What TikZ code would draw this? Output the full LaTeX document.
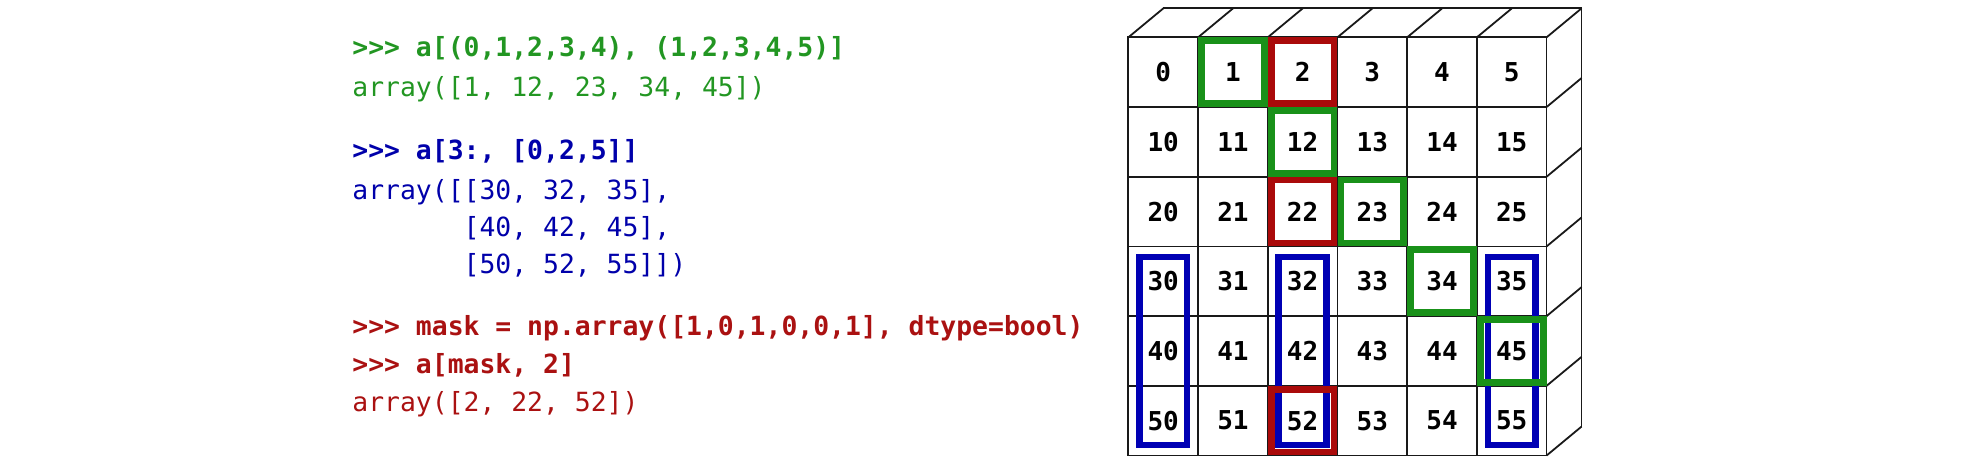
\documentclass[tikz,border=0pt]{standalone}
\usepackage{fontspec}
\setmonofont{DejaVu Sans Mono}
\usepackage{tikz}

\definecolor{codegreen}{RGB}{34,150,34}
\definecolor{codeblue}{RGB}{0,0,170}
\definecolor{codered}{RGB}{170,17,17}
\definecolor{boxgreen}{RGB}{25,145,25}
\definecolor{boxblue}{RGB}{0,0,180}
\definecolor{boxred}{RGB}{170,10,10}

\begin{document}
\begin{tikzpicture}[
            x=0.5pt, y=-0.5pt, % one unit is one pixel, y grows downwards
            cell/.style={draw=black!90, line width=0.9pt, fill=white, minimum size=34.85pt, inner sep=0pt, outer sep=0pt, font=\ttfamily\bfseries\fontsize{13}{13}\selectfont}, % square of the array
            edge/.style={draw=black!90, line width=0.9pt}, % edges of the block
            prompt/.style={anchor=base west, inner sep=0pt, font=\ttfamily\bfseries\fontsize{13.2}{14}\selectfont}, % input line
            output/.style={anchor=base west, inner sep=0pt, font=\ttfamily\fontsize{13.2}{14}\selectfont}, % printed result
            hilite/.style={line width=3.35pt} % selected squares
            ]

                \useasboundingbox (0,0) rectangle (1986,464);

                % Code on the left
                \node[prompt, text=codegreen] (in1) at (352,57) {>>> a[(0,1,2,3,4), (1,2,3,4,5)]};
                \node[output, text=codegreen] (out1) at (352,97) {array([1, 12, 23, 34, 45])};
                \node[prompt, text=codeblue] (in2) at (352,160) {>>> a[3:, [0,2,5]]};
                \node[output, text=codeblue] (out2a) at (352,200) {array([[30, 32, 35],};
                \node[output, text=codeblue] (out2b) at (352,237) {\phantom{array([}[40, 42, 45],};
                \node[output, text=codeblue] (out2c) at (352,274) {\phantom{array([}[50, 52, 55]])};
                \node[prompt, text=codered] (in3) at (352,336) {>>> mask = np.array([1,0,1,0,0,1], dtype=bool)};
                \node[prompt, text=codered] (in4) at (352,374) {>>> a[mask, 2]};
                \node[output, text=codered] (out4) at (352,412) {array([2, 22, 52])};

                % The 6x6 array
                \foreach \i in {0,...,5} {
                    \foreach \j in {0,...,5} {
                        \pgfmathtruncatemacro\num{10*\i+\j}
                        \node[cell] (c\i\j) at ({1163.2+69.7*\j},{72.2+69.7*\i}) {\num};
                    }
                }

                % Top and side of the block
                \coordinate (tl) at ([shift={(35,-29)}]c00.north west);
                \coordinate (tr) at ([shift={(35,-29)}]c05.north east);
                \coordinate (br) at ([shift={(35,-29)}]c55.south east);
                \draw[edge] (tl) -- (tr) -- (br);
                \foreach \j in {0,...,5}
                    \draw[edge] (c0\j.north west) -- ++(35,-29);
                \foreach \i in {0,...,5}
                    \draw[edge] (c\i5.north east) -- ++(35,-29);
                \draw[edge] (c55.south east) -- (br);

                % Selections
                \foreach \j in {0,2,5}
                    \draw[hilite, draw=boxblue] ([shift={(11,10.5)}]c3\j.north west) rectangle ([shift={(-11,-10.5)}]c5\j.south east);
                \foreach \c in {02,22,52}
                    \draw[hilite, draw=boxred] ([shift={(3.4,3.4)}]c\c.north west) rectangle ([shift={(-3.4,-3.4)}]c\c.south east);
                \foreach \c in {01,12,23,34,45}
                    \draw[hilite, draw=boxgreen] ([shift={(3.4,3.4)}]c\c.north west) rectangle ([shift={(-3.4,-3.4)}]c\c.south east);

            \end{tikzpicture}
\end{document}
